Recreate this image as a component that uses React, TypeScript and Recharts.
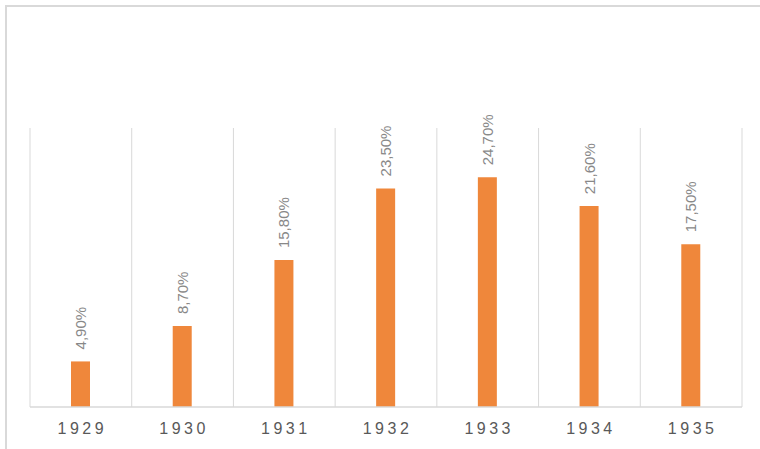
import React from "react";
import { BarChart, Bar, XAxis, YAxis, CartesianGrid, LabelList } from "recharts";

// Unemployment rate by year
const years = ["1929", "1930", "1931", "1932", "1933", "1934", "1935"];
const rates = [4.9, 8.7, 15.8, 23.5, 24.7, 21.6, 17.5];
const rateLabels = ["4,90%", "8,70%", "15,80%", "23,50%", "24,70%", "21,60%", "17,50%"];

const data = years.map((year, i) => ({ year, rate: rates[i], label: rateLabels[i] }));

const FONT = "'Liberation Sans', Arial, sans-serif";

const YearTick = (props: any) => {
  const { x, y, payload } = props;
  return (
    <text
      x={x}
      y={y + 13}
      dx={1.5}
      textAnchor="middle"
      dominantBaseline="central"
      fill="#595959"
      fontSize={16}
      fontFamily={FONT}
      letterSpacing={3.5}
    >
      {payload.value}
    </text>
  );
};

const RotatedLabel = (props: any) => {
  const { x, y, width, value } = props;
  const cx = x + width / 2;
  const cy = y - 12;
  return (
    <text
      x={cx}
      y={cy}
      transform={`rotate(-90, ${cx}, ${cy})`}
      textAnchor="start"
      dominantBaseline="central"
      fill="#888888"
      fontSize={15}
      fontFamily={FONT}
    >
      {value}
    </text>
  );
};

// vertical grid lines sit on the category boundaries
const boundaryLines = ({ offset }: any) => {
  const step = offset.width / years.length;
  return Array.from({ length: years.length + 1 }, (_, i) => offset.left + i * step);
};

export default function App() {
  return (
    <div style={{ position: "absolute", left: 0, top: 0, width: 760, height: 449, background: "#fff", overflow: "hidden" }}>
      <div
        style={{
          position: "absolute",
          left: 5,
          top: 5,
          width: 800,
          height: 500,
          borderLeft: "2px solid #d9d9d9",
          borderTop: "2px solid #d9d9d9",
        }}
      />
      <div style={{ position: "absolute", left: 0, top: 0 }}>
        <BarChart
          width={760}
          height={449}
          data={data}
          margin={{ top: 128, right: 18, left: 30, bottom: 0 }}
          barCategoryGap={0}
        >
          <CartesianGrid
            horizontal={false}
            vertical={true}
            stroke="#d9d9d9"
            strokeWidth={1}
            verticalCoordinatesGenerator={boundaryLines}
          />
          <XAxis
            dataKey="year"
            height={42}
            axisLine={{ stroke: "#d9d9d9", strokeWidth: 1.5 }}
            tickLine={false}
            tick={<YearTick />}
            interval={0}
          />
          <YAxis hide domain={[0, 30]} />
          <Bar dataKey="rate" fill="#EF873B" barSize={19} isAnimationActive={false}>
            <LabelList dataKey="label" content={<RotatedLabel />} />
          </Bar>
        </BarChart>
      </div>
    </div>
  );
}
